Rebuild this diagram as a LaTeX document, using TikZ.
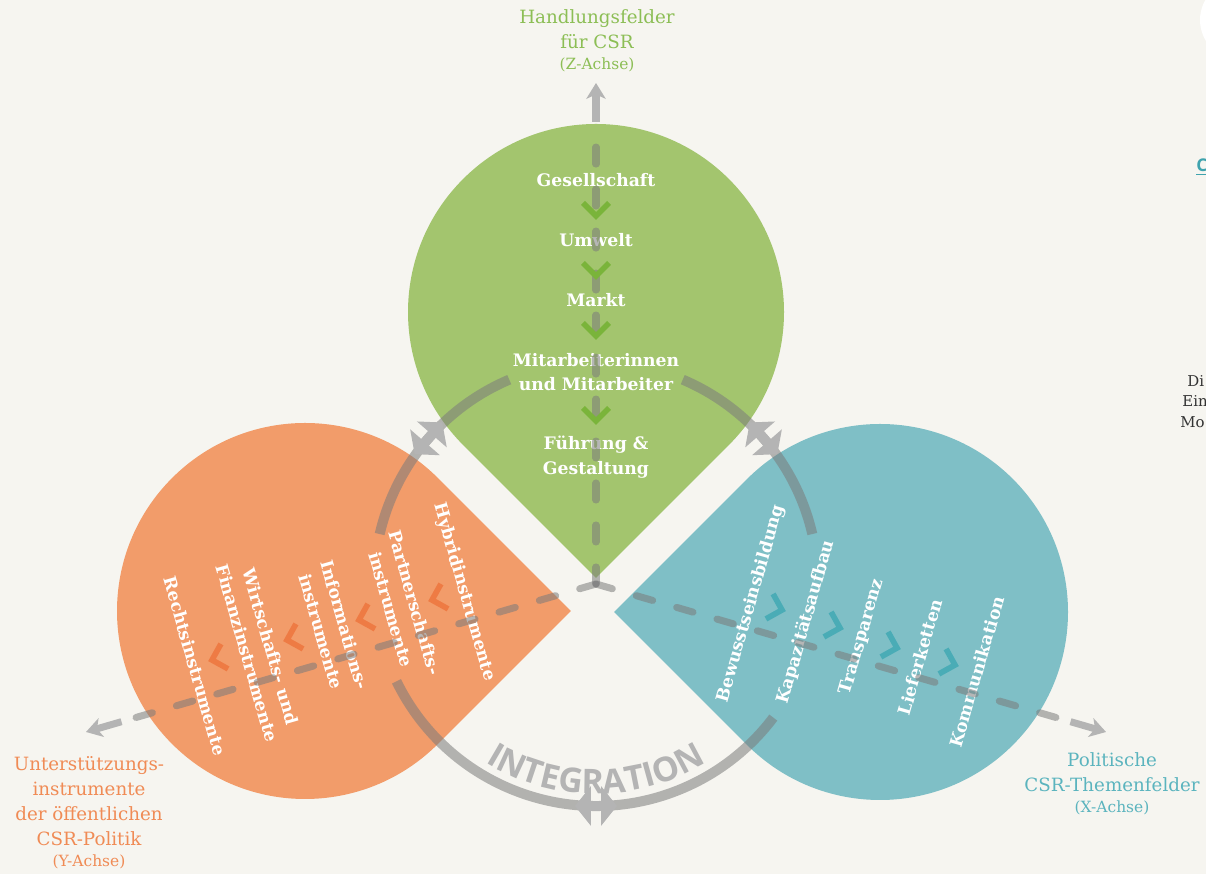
\documentclass[tikz,border=0pt]{standalone}
\usepackage{fontspec}
\setmainfont{DejaVu Serif}
\newfontfamily\integfont{Open Sans}
\usetikzlibrary{arrows.meta,calc,decorations.text}
\definecolor{bgpaper}{HTML}{F6F5F0}
\definecolor{lfgreen}{HTML}{A3C56E}
\definecolor{lforange}{HTML}{F29C6A}
\definecolor{lfblue}{HTML}{7FBFC6}
\definecolor{chgreen}{HTML}{7AB43A}
\definecolor{chorange}{HTML}{EE7B44}
\definecolor{chblue}{HTML}{4AACB6}
\definecolor{lbgreen}{HTML}{8CBE55}
\definecolor{lborange}{HTML}{F08B55}
\definecolor{lbblue}{HTML}{5BB4BE}
\definecolor{ringgray}{HTML}{7B7B7B}
\definecolor{arrgray}{HTML}{B4B4B4}
\definecolor{pagetext}{HTML}{333333}
\definecolor{linkteal}{HTML}{3FA3AE}
\newcommand{\achsfont}{\fontsize{8.8}{10}\selectfont}
% teardrop: colour, centre, direction of the tip
\newcommand{\teardrop}[3]{%
  \fill[#1] ($(#2)+(#3+45:188)$) arc[start angle=#3+45, end angle=#3+315, radius=188]
    -- ($(#2)+(#3:265.9)$) -- cycle;}
\tikzset{
  chev/.pic={\draw[pic actions] (-13,13) -- (0,0) -- (-13,-13);}
}

\begin{document}
\begin{tikzpicture}[
  x=0.02cm, y=0.02cm,
  item/.style={text=white, font=\bfseries\fontsize{9.8}{14}\selectfont,
               align=center, inner sep=0pt},
  axlabel/.style={font=\fontsize{10.4}{14.2}\selectfont, align=center, inner sep=0pt},
  ring/.style={draw=ringgray, draw opacity=0.55, line width=5.7pt},
  axis/.style={draw=ringgray, draw opacity=0.55, line width=4pt, line cap=round,
               dash pattern=on 0.34cm off 0.5cm},
  axisend/.style={draw=arrgray, line width=4pt,
                  -{Stealth[length=9pt, width=11pt, inset=2.5pt]}},
  dblarr/.style={draw=arrgray, line width=5.7pt,
                 {Triangle[length=9pt, width=22pt]}-{Triangle[length=9pt, width=22pt]}},
  chevline/.style={line width=3.2pt},
  edgetext/.style={font=\fontsize{8.5}{10}\selectfont, text=pagetext, inner sep=0pt, anchor=west},
]
  \fill[bgpaper] (0,0) rectangle (1206,874);
  \useasboundingbox (0,0) rectangle (1206,874);

  % ---- the three fields -----------------------------------------------------
  \coordinate (cg) at (596,562);
  \coordinate (co) at (305,263);
  \coordinate (cb) at (880,262);
  \teardrop{lfgreen}{cg}{270}
  \teardrop{lforange}{co}{0}
  \teardrop{lfblue}{cb}{180}

  % ---- integration ring -----------------------------------------------------
  \coordinate (O) at (596,290);
  \draw[ring] ($(O)+(113:222)$) arc[start angle=113, end angle=167, radius=222];
  \draw[ring] ($(O)+(206:222)$) arc[start angle=206, end angle=323, radius=222];
  \draw[ring] ($(O)+(13:222)$) arc[start angle=13, end angle=67, radius=222];
  \path[decorate, decoration={text along path, text align=center,
        text={|\integfont\bfseries\fontsize{19.3}{20}\selectfont\color{arrgray}|INTEGRATION}}]
    ($(O)+(220:210)$) arc[start angle=220, end angle=320, radius=210];

  % ---- green field ----------------------------------------------------------
  \node[item] (ges) at (596,694) {Gesellschaft};
  \node[item] (umw) at (596,634) {Umwelt};
  \node[item] (mar) at (596,574) {Markt};
  \node[item] (mit) at (596,502) {Mitarbeiterinnen\\und Mitarbeiter};
  \node[item] (fue) at (596,417) {Führung \&\\Gestaltung};

  % ---- orange field ---------------------------------------------------------
  \node[item, rotate=-74] (hyb) at (464,282) {Hybridinstrumente};
  \node[item, rotate=-74] (par) at (403,268) {Partnerschafts-\\instrumente};
  \node[item, rotate=-74] (inf) at (333,246) {Informations-\\instrumente};
  \node[item, rotate=-74] (wir) at (259,224) {Wirtschafts- und\\Finanzinstrumente};
  \node[item, rotate=-74] (rec) at (195,208) {Rechtsinstrumente};

  % ---- blue field -----------------------------------------------------------
  \node[item, rotate=74] (bew) at (751,270) {Bewusstseinsbildung};
  \node[item, rotate=74] (kap) at (806,252) {Kapazitätsaufbau};
  \node[item, rotate=74] (tra) at (862,237) {Transparenz};
  \node[item, rotate=74] (lie) at (920,217) {Lieferketten};
  \node[item, rotate=74] (kom) at (977,202) {Kommunikation};

  % ---- axes -----------------------------------------------------------------
  \coordinate (zend) at (596,734);
  \coordinate (zsol) at (596,752);
  \coordinate (ztip) at (596,791);
  \coordinate (yend) at (125.3,153.4);
  \coordinate (ysol) at (121.5,152.3);
  \coordinate (ytip) at (86,142);
  \coordinate (xend) at (1066.7,153.4);
  \coordinate (xsol) at (1070.5,152.3);
  \coordinate (xtip) at (1106,142);
  \draw[axis] (O) -- (zend);
  \draw[axis] (O) -- (yend);
  \draw[axis] (O) -- (xend);
  \draw[axisend] (zsol) -- (ztip);
  \draw[axisend] (ysol) -- (ytip);
  \draw[axisend] (xsol) -- (xtip);

  % chevrons
  \foreach \yy in {658,598,538,453}
    \pic[draw=chgreen, chevline, rotate=270] at (596,\yy) {chev};
  \foreach \xx/\yy in {432/274,359/254,287/234,212/214}
    \pic[draw=chorange, chevline, rotate=196] at (\xx,\yy) {chev};
  \foreach \xx/\yy in {782/264,840/246,897/226,955/209}
    \pic[draw=chblue, chevline, rotate=-16] at (\xx,\yy) {chev};

  % double arrows on the ring
  \foreach \ang in {139,41,270}{
    \coordinate (ra) at ($(O)+(\ang:222)$);
    \draw[dblarr] ($(ra)+(\ang-90:21)$) -- ($(ra)+(\ang+90:21)$);
  }

  % ---- axis labels ----------------------------------------------------------
  \node[axlabel, text=lbgreen] (zlab) at (597,833)
    {Handlungsfelder\\für CSR\\[-2pt]{\achsfont (Z-Achse)}};
  \node[axlabel, text=lborange] (ylab) at (89,61)
    {Unterstützungs-\\instrumente\\der öffentlichen\\CSR-Politik\\[-2pt]{\achsfont (Y-Achse)}};
  \node[axlabel, text=lbblue] (xlab) at (1112,90)
    {Politische\\CSR-Themenfelder\\[-2pt]{\achsfont (X-Achse)}};

  % ---- page edge ------------------------------------------------------------
  \fill[white] (1240,854) circle[radius=40];
  \node[edgetext, text=linkteal, font=\integfont\bfseries\fontsize{10}{12}\selectfont]
    (lnk) at (1196,707) {\underline{C}};
  \node[edgetext] (fr1) at (1187,493) {Di};
  \node[edgetext] (fr2) at (1182,473) {Ein};
  \node[edgetext] (fr3) at (1180,452) {Mo};
\end{tikzpicture}
\end{document}
